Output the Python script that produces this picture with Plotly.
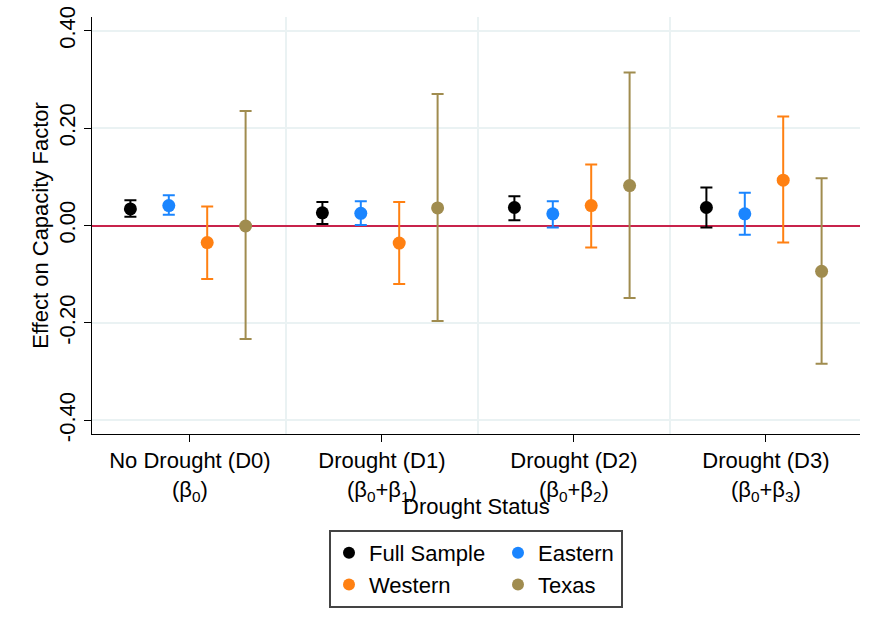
import plotly.graph_objects as go

categories = [
    "No Drought (D0)<br>(β<sub>0</sub>)",
    "Drought (D1)<br>(β<sub>0</sub>+β<sub>1</sub>)",
    "Drought (D2)<br>(β<sub>0</sub>+β<sub>2</sub>)",
    "Drought (D3)<br>(β<sub>0</sub>+β<sub>3</sub>)",
]
yticks = [-0.4, -0.2, 0.0, 0.2, 0.4]
ytick_labels = ["-0.40", "-0.20", "0.00", "0.20", "0.40"]

series_names = ["Full Sample", "Eastern", "Western", "Texas"]

full_est = [0.034, 0.026, 0.037, 0.037]
full_lo = [0.018, 0.003, 0.011, -0.004]
full_hi = [0.052, 0.048, 0.060, 0.078]

east_est = [0.041, 0.025, 0.024, 0.024]
east_lo = [0.022, 0.001, -0.004, -0.019]
east_hi = [0.062, 0.050, 0.050, 0.067]

west_est = [-0.035, -0.036, 0.041, 0.093]
west_lo = [-0.110, -0.120, -0.045, -0.035]
west_hi = [0.039, 0.048, 0.125, 0.224]

texas_est = [-0.001, 0.036, 0.082, -0.094]
texas_lo = [-0.233, -0.196, -0.149, -0.284]
texas_hi = [0.235, 0.270, 0.314, 0.097]

data = [
    (full_est, full_lo, full_hi),
    (east_est, east_lo, east_hi),
    (west_est, west_lo, west_hi),
    (texas_est, texas_lo, texas_hi),
]
colors = ["#000000", "#1A85FF", "#FF8012", "#A08C4F"]
offsets = [-0.31, -0.11, 0.09, 0.29]
# legend columns: (Full Sample, Western) | (Eastern, Texas)
groups = ["col1", "col2", "col1", "col2"]
legend_widths = [124, 78, 124, 78]

FONT = "Arial, Liberation Sans, sans-serif"
base_x = list(range(1, len(categories) + 1))

fig = go.Figure()
for name, (est, lo, hi), col, off, grp, lw in zip(series_names, data, colors, offsets,
                                                   groups, legend_widths):
    fig.add_trace(go.Scatter(
        x=[b + off for b in base_x],
        y=est,
        mode="markers",
        name=name,
        legendgroup=grp,
        legendwidth=lw,
        marker=dict(color=col, size=13),
        error_y=dict(
            type="data", symmetric=False,
            array=[h - e for h, e in zip(hi, est)],
            arrayminus=[e - l for e, l in zip(est, lo)],
            color=col, thickness=2, width=6,
        ),
    ))

fig.update_layout(
    width=870, height=627,
    paper_bgcolor="white", plot_bgcolor="white",
    margin=dict(l=92, r=10, t=17, b=193),
    font=dict(family=FONT, size=22, color="#000000"),
    showlegend=True,
    legend=dict(
        orientation="h", x=0.5, xanchor="center", y=-0.2302, yanchor="top",
        bordercolor="#444444", borderwidth=2,
        font=dict(size=22, family=FONT),
        traceorder="grouped", tracegroupgap=0,
        itemsizing="constant",
    ),
    xaxis=dict(
        range=[0.49, 4.49],
        tickvals=base_x, ticktext=categories,
        ticks="outside", ticklen=7, tickcolor="#000000", tickwidth=1,
        showline=True, linecolor="#000000", linewidth=1,
        showgrid=False, zeroline=False, automargin=False,
        minor=dict(tickvals=[1.5, 2.5, 3.5], showgrid=True,
                   gridcolor="#EAF2F3", gridwidth=2, ticks=""),
        tickfont=dict(size=22),
    ),
    yaxis=dict(
        range=[-0.428, 0.428],
        tickvals=yticks, ticktext=ytick_labels, tickangle=-90,
        ticklabeloverflow="allow",
        ticks="outside", ticklen=7, tickcolor="#000000", tickwidth=1,
        showline=True, linecolor="#000000", linewidth=1,
        showgrid=True, gridcolor="#EAF2F3", gridwidth=2,
        zeroline=True, zerolinecolor="#C8234B", zerolinewidth=2,
        automargin=False,
        title=dict(text="Effect on Capacity Factor", font=dict(size=22), standoff=0),
        tickfont=dict(size=22),
    ),
    annotations=[dict(
        text="Drought Status", xref="paper", yref="paper",
        x=0.5, y=-0.175, xanchor="center", yanchor="middle",
        showarrow=False, font=dict(size=22, family=FONT),
    )],
)

fig.write_html("out.html", config={"displayModeBar": False},
               post_script="document.body.style.margin='0px';")
